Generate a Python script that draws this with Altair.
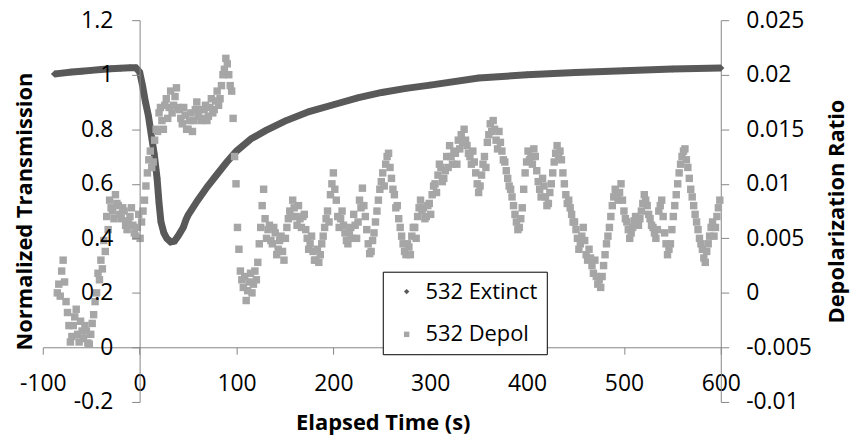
import altair as alt
import pandas as pd

# ---- data ----
ext_time = [-88, -80, -70, -60, -50, -40, -30, -20, -10, -4, 0, 3, 6, 9, 12, 15, 18, 20, 22, 25,
            28, 32, 36, 40, 45, 48, 50, 60, 70, 80, 90, 100, 115, 130, 150, 175, 200, 225, 250,
            275, 300, 350, 400, 450, 500, 550, 600]
ext_value = [1.003, 1.006, 1.010, 1.013, 1.016, 1.019, 1.022, 1.024, 1.026, 1.026, 1.010, 0.960,
             0.900, 0.850, 0.780, 0.710, 0.620, 0.530, 0.460, 0.420, 0.400, 0.387, 0.390, 0.410,
             0.440, 0.470, 0.485, 0.540, 0.590, 0.635, 0.680, 0.720, 0.765, 0.795, 0.830, 0.865,
             0.890, 0.915, 0.935, 0.950, 0.962, 0.988, 1.000, 1.008, 1.015, 1.021, 1.025]

depol_time = list(range(-85, 601, 3))
depol_value = [
    0.0000, -0.0003, 0.0030, -0.0008, -0.0030, -0.0040, -0.0022, -0.0038, -0.0026, -0.0042,
    -0.0035, -0.0047, -0.0028, -0.0008, 0.0018, 0.0030, 0.0048, 0.0070, 0.0085, 0.0075,
    0.0090, 0.0080, 0.0068, 0.0075, 0.0058, 0.0070, 0.0062, 0.0052, 0.0072, 0.0065,
    0.0085, 0.0110, 0.0130, 0.0120, 0.0150, 0.0165, 0.0158, 0.0172, 0.0160, 0.0185,
    0.0172, 0.0188, 0.0168, 0.0155, 0.0163, 0.0150, 0.0165, 0.0158, 0.0175, 0.0168,
    0.0160, 0.0172, 0.0162, 0.0178, 0.0168, 0.0185, 0.0178, 0.0200, 0.0215, 0.0200,
    0.0185, 0.0125, 0.0060, 0.0020, 0.0005, -0.0007, 0.0010, 0.0000, 0.0020, 0.0028,
    0.0060, 0.0095, 0.0050, 0.0062, 0.0045, 0.0055, 0.0040, 0.0052, 0.0030, 0.0060,
    0.0075, 0.0085, 0.0070, 0.0080, 0.0060, 0.0072, 0.0050, 0.0045, 0.0038, 0.0030,
    0.0028, 0.0045, 0.0060, 0.0075, 0.0090, 0.0110, 0.0085, 0.0060, 0.0075, 0.0055,
    0.0045, 0.0060, 0.0072, 0.0050, 0.0085, 0.0096, 0.0070, 0.0045, 0.0038, 0.0055,
    0.0075, 0.0095, 0.0110, 0.0118, 0.0128, 0.0105, 0.0090, 0.0080, 0.0060, 0.0045,
    0.0035, 0.0042, 0.0052, 0.0060, 0.0070, 0.0085, 0.0078, 0.0070, 0.0082, 0.0090,
    0.0100, 0.0108, 0.0115, 0.0105, 0.0125, 0.0135, 0.0118, 0.0128, 0.0140, 0.0145,
    0.0150, 0.0135, 0.0125, 0.0130, 0.0110, 0.0092, 0.0108, 0.0125, 0.0138, 0.0155,
    0.0158, 0.0140, 0.0148, 0.0130, 0.0120, 0.0105, 0.0095, 0.0080, 0.0065, 0.0060,
    0.0078, 0.0110, 0.0130, 0.0125, 0.0132, 0.0112, 0.0095, 0.0105, 0.0088, 0.0082,
    0.0100, 0.0120, 0.0135, 0.0130, 0.0110, 0.0090, 0.0085, 0.0072, 0.0065, 0.0050,
    0.0045, 0.0060, 0.0035, 0.0040, 0.0025, 0.0030, 0.0008, 0.0005, 0.0025, 0.0045,
    0.0060, 0.0080, 0.0095, 0.0085, 0.0100, 0.0075, 0.0065, 0.0050, 0.0060, 0.0070,
    0.0062, 0.0075, 0.0090, 0.0080, 0.0068, 0.0060, 0.0050, 0.0075, 0.0085, 0.0055,
    0.0035, 0.0045, 0.0070, 0.0090, 0.0110, 0.0125, 0.0132, 0.0115, 0.0095, 0.0080,
    0.0065, 0.0050, 0.0040, 0.0028, 0.0045, 0.0060, 0.0052, 0.0070, 0.0085,
]

# second set of depol samples, half-way between the first ones
depol_time_b = [t + 1.5 for t in depol_time[:-1]]
depol_value_b = [
    0.0008, 0.0020, 0.0010, -0.0018, -0.0045, -0.0030, -0.0015, -0.0045, -0.0035, -0.0030,
    -0.0046, -0.0038, -0.0020, 0.0000, 0.0012, 0.0022, 0.0038, 0.0058, 0.0078, 0.0068,
    0.0082, 0.0072, 0.0078, 0.0062, 0.0066, 0.0078, 0.0055, 0.0060, 0.0050, 0.0075,
    0.0098, 0.0122, 0.0115, 0.0140, 0.0148, 0.0170, 0.0150, 0.0178, 0.0170, 0.0165,
    0.0180, 0.0170, 0.0160, 0.0170, 0.0150, 0.0158, 0.0148, 0.0168, 0.0162, 0.0158,
    0.0168, 0.0158, 0.0170, 0.0165, 0.0176, 0.0172, 0.0190, 0.0205, 0.0210, 0.0190,
    0.0160, 0.0100, 0.0040, 0.0012, 0.0015, 0.0002, 0.0018, 0.0008, 0.0012, 0.0045,
    0.0080, 0.0068, 0.0058, 0.0048, 0.0060, 0.0035, 0.0048, 0.0038, 0.0050, 0.0068,
    0.0070, 0.0078, 0.0062, 0.0068, 0.0070, 0.0058, 0.0040, 0.0052, 0.0030, 0.0040,
    0.0035, 0.0052, 0.0068, 0.0065, 0.0100, 0.0095, 0.0070, 0.0068, 0.0062, 0.0048,
    0.0055, 0.0050, 0.0062, 0.0065, 0.0078, 0.0080, 0.0058, 0.0036, 0.0048, 0.0065,
    0.0085, 0.0102, 0.0098, 0.0125, 0.0115, 0.0095, 0.0078, 0.0068, 0.0052, 0.0038,
    0.0045, 0.0035, 0.0060, 0.0050, 0.0078, 0.0075, 0.0068, 0.0080, 0.0072, 0.0098,
    0.0092, 0.0118, 0.0102, 0.0112, 0.0115, 0.0125, 0.0130, 0.0118, 0.0132, 0.0138,
    0.0140, 0.0128, 0.0118, 0.0120, 0.0100, 0.0098, 0.0118, 0.0115, 0.0145, 0.0148,
    0.0150, 0.0132, 0.0138, 0.0122, 0.0112, 0.0098, 0.0088, 0.0072, 0.0058, 0.0068,
    0.0095, 0.0120, 0.0122, 0.0118, 0.0125, 0.0102, 0.0088, 0.0098, 0.0080, 0.0092,
    0.0110, 0.0128, 0.0125, 0.0122, 0.0100, 0.0082, 0.0078, 0.0065, 0.0058, 0.0040,
    0.0052, 0.0048, 0.0030, 0.0032, 0.0018, 0.0015, 0.0012, 0.0015, 0.0035, 0.0052,
    0.0070, 0.0088, 0.0090, 0.0092, 0.0085, 0.0068, 0.0058, 0.0055, 0.0066, 0.0062,
    0.0068, 0.0082, 0.0085, 0.0072, 0.0062, 0.0055, 0.0058, 0.0080, 0.0070, 0.0045,
    0.0040, 0.0058, 0.0080, 0.0100, 0.0118, 0.0130, 0.0122, 0.0105, 0.0088, 0.0072,
    0.0058, 0.0045, 0.0032, 0.0038, 0.0052, 0.0065, 0.0060, 0.0078,
]

series_names = ["532 Extinct", "532 Depol"]
series_colors = ["#595959", "#A6A6A6"]
series_shapes = ["diamond", "square"]

x_ticks = [-100, 0, 100, 200, 300, 400, 500, 600]
left_ticks = [-0.2, 0, 0.2, 0.4, 0.6, 0.8, 1, 1.2]
right_ticks = [-0.01, -0.005, 0, 0.005, 0.01, 0.015, 0.02, 0.025]

ext_df = pd.DataFrame({"time": ext_time, "transmission": ext_value, "series": series_names[0]})
dep_df = pd.DataFrame({
    "time": depol_time + depol_time_b,
    "depol": depol_value + depol_value_b,
    "series": series_names[1],
})

FONT = "Open Sans"
AXIS_GRAY = "#868686"

x_enc = alt.X(
    "time:Q",
    scale=alt.Scale(domain=[-100, 600], nice=False, zero=False),
    axis=alt.Axis(
        values=x_ticks, title="Elapsed Time (s)", offset=-55, tickSize=7, labelPadding=18,
        labelFlush=False, labelOverlap=False, labelExpr="'' + datum.value",
        titleX=342, titleY=76, titleBaseline="middle",
    ),
)

y_left = alt.Y(
    "transmission:Q",
    scale=alt.Scale(domain=[-0.2, 1.2], nice=False, zero=False),
    axis=alt.Axis(
        orient="left", values=left_ticks, title="Normalized Transmission", offset=-97.4,
        tickSize=8, labelPadding=19, labelOverlap=False, labelExpr="'' + datum.value",
        titleX=-116, titleY=192, titleAngle=270, titleBaseline="middle", zindex=1,
    ),
)

y_right = alt.Y(
    "depol:Q",
    scale=alt.Scale(domain=[-0.01, 0.025], nice=False, zero=False),
    axis=alt.Axis(
        orient="right", values=right_ticks, title="Depolarization Ratio",
        tickSize=8, labelPadding=17, labelOverlap=False, labelExpr="'' + datum.value",
        titleX=116, titleY=192, titleAngle=270, titleBaseline="middle",
    ),
)

legend = alt.Legend(
    title=None, orient="none", legendX=342, legendY=253, fillColor="white",
    strokeColor="black", padding=9, rowPadding=21, labelFontSize=22, labelFont=FONT,
    symbolSize=30, symbolStrokeWidth=0, labelOffset=8, symbolOffset=4,
)

color_enc = alt.Color("series:N", scale=alt.Scale(domain=series_names, range=series_colors), legend=legend)
shape_enc = alt.Shape("series:N", scale=alt.Scale(domain=series_names, range=series_shapes), legend=legend)

ext_line = alt.Chart(ext_df).mark_line(color=series_colors[0], strokeWidth=7).encode(x=x_enc, y=y_left)
ext_pts = alt.Chart(ext_df).mark_point(filled=True, size=50, opacity=1).encode(
    x=x_enc, y=y_left, color=color_enc, shape=shape_enc)
dep_pts = alt.Chart(dep_df).mark_point(filled=True, size=56, opacity=1).encode(
    x=x_enc, y=y_right, color=color_enc, shape=shape_enc)

left_layer = alt.layer(ext_line, ext_pts)

chart = (
    alt.layer(left_layer, dep_pts)
    .resolve_scale(y="independent")
    .properties(
        width=682, height=384,
        autosize=alt.AutoSizeParams(type="none"),
        padding={"left": 35, "top": 11, "right": 133, "bottom": 37},
        background="white",
    )
    .configure_view(stroke=None)
    .configure_axis(
        grid=False, domainColor=AXIS_GRAY, tickColor=AXIS_GRAY, labelColor="black",
        labelFont=FONT, labelFontSize=23, titleFont=FONT, titleFontSize=22,
        titleFontWeight="bold", titleColor="black",
    )
)

chart.save("out.html", embed_options={"renderer": "svg", "actions": False})
